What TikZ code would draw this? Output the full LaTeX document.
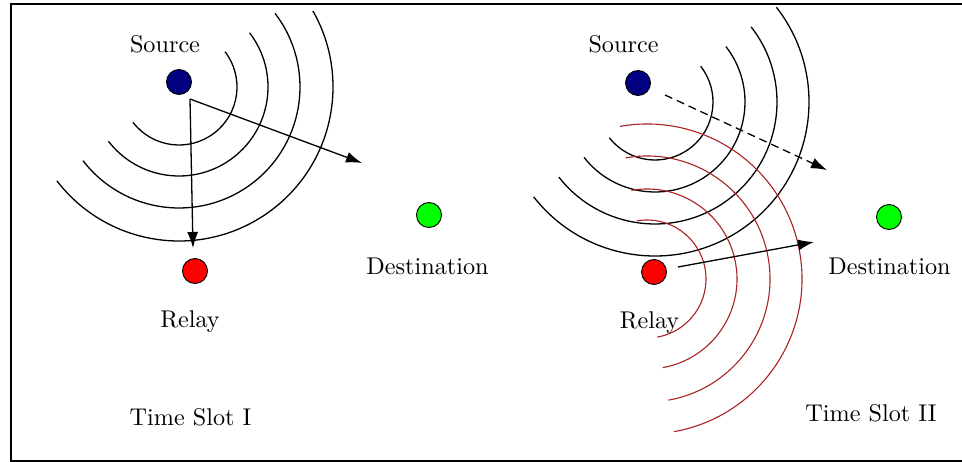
\documentclass[tikz,border=0pt]{standalone}
\usetikzlibrary{arrows.meta}
\definecolor{srcblue}{RGB}{0,0,128}
\definecolor{relayred}{RGB}{255,0,0}
\definecolor{dstgreen}{RGB}{0,255,0}
\definecolor{wavered}{RGB}{170,34,34}
\tikzset{
  dot/.style={circle, draw=black, line width=0.9pt, minimum size=25pt, inner sep=0pt},
  lbl/.style={anchor=base, inner sep=0pt, font=\fontsize{10}{12}\selectfont, scale=2.42},
  wave/.style={line width=1.3pt, black},
  redwave/.style={line width=1.1pt, wavered},
  arr/.style={line width=1.3pt, -{Latex[length=16pt,width=11pt]}},
}
\begin{document}
\begin{tikzpicture}[x=1pt,y=1pt]
\useasboundingbox (0,0) rectangle (962,-462);
\clip (0,0) rectangle (962,-462);
% frame
\draw[line width=1.3pt] (11,-4) rectangle (975,-461);

% ---------- Time slot I ----------
\coordinate (cL) at (179,-87);
\begin{scope}
\clip (0,-12) rectangle (500,-462);
\foreach \r in {58,89,121,154}
  \draw[wave] ([shift={(217.5:\r)}]cL) arc[start angle=217.5, end angle=397.5, radius=\r];
\end{scope}
\node[dot, fill=srcblue] (s1) at (179,-82) {};
\node[dot, fill=relayred] (r1) at (195,-271) {};
\node[dot, fill=dstgreen] (d1) at (429,-215) {};
\node[lbl] (s1l) at (165,-53) {Source};
\node[lbl] (r1l) at (190,-328) {Relay};
\node[lbl] (d1l) at (427.5,-275) {Destination};
\node[lbl] (t1) at (190.5,-425) {Time Slot I};
\coordinate (o1) at (190,-99);
\coordinate (e1a) at (193,-248);
\coordinate (e1b) at (362,-163);
\draw[arr] (o1) -- (e1a);
\draw[arr] (o1) -- (e1b);

% ---------- Time slot II ----------
\coordinate (cR) at (655,-102);
\foreach \r in {58,90,122,154}
  \draw[wave] ([shift={(218:\r)}]cR) arc[start angle=218, end angle=398, radius=\r];
\coordinate (cRr) at (647,-279);
\foreach \r in {59,90,123,155}
  \draw[redwave] ([shift={(100:\r)}]cRr) arc[start angle=100, end angle=-80, radius=\r];
\node[dot, fill=srcblue] (s2) at (638,-83) {};
\node[dot, fill=relayred] (r2) at (654,-272) {};
\node[dot, fill=dstgreen] (d2) at (889,-217) {};
\node[lbl] (s2l) at (623.5,-53) {Source};
\node[lbl] (r2l) at (649.5,-329) {Relay};
\node[lbl] (d2l) at (889.5,-275) {Destination};
\node[lbl] (t2) at (871,-421) {Time Slot II};
\coordinate (o2a) at (665,-95);
\coordinate (e2a) at (827,-170);
\coordinate (o2b) at (678,-267);
\coordinate (e2b) at (814,-242);
\draw[arr, dash pattern=on 8pt off 5pt] (o2a) -- (e2a);
\draw[arr] (o2b) -- (e2b);
\end{tikzpicture}
\end{document}
